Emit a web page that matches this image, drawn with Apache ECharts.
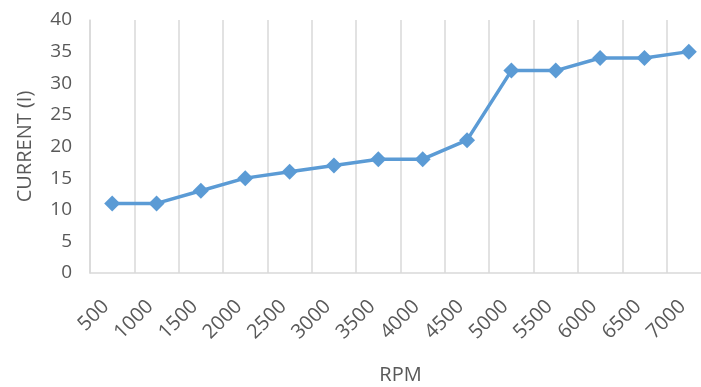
<!DOCTYPE html>
<html>
<head>
<meta charset="utf-8">
<script src="https://cdn.jsdelivr.net/npm/echarts@6/dist/echarts.min.js"></script>
<style>
  html, body { margin: 0; padding: 0; background: #fff; overflow: hidden; }
  #chart { width: 701px; height: 387px; }
</style>
</head>
<body>
<div id="chart"></div>
<script>
// Motor speed (RPM) vs. current draw
const rpmLabels = ['500', '1000', '1500', '2000', '2500', '3000', '3500', '4000', '4500', '5000', '5500', '6000', '6500', '7000'];
const currentValues = [11, 11, 13, 15, 16, 17, 18, 18, 21, 32, 32, 34, 34, 35];
const yTicks = { min: 0, max: 40, interval: 5 };

const textColor = '#595959';
const fontFamily = '"Open Sans", "Noto Sans", sans-serif';

const chart = echarts.init(document.getElementById('chart'));
chart.setOption({
  animation: false,
  // plot area runs slightly past the right edge of the canvas
  grid: { left: 90, width: 621, top: 20, height: 253, containLabel: false, outerBoundsMode: 'none' },
  xAxis: {
    type: 'category',
    data: rpmLabels,
    boundaryGap: true,
    name: 'RPM',
    nameLocation: 'middle',
    nameGap: 92,
    nameTextStyle: { color: textColor, fontSize: 20, fontFamily },
    axisLine: { show: true, lineStyle: { color: '#d9d9d9', width: 1.5 } },
    axisTick: { show: false },
    axisLabel: { rotate: 45, margin: 24, padding: [0, 9, 0, 0], color: textColor, fontSize: 20, fontFamily },
    splitLine: { show: true, lineStyle: { color: '#d9d9d9', width: 1.5 } }
  },
  yAxis: {
    type: 'value',
    min: yTicks.min,
    max: yTicks.max,
    interval: yTicks.interval,
    name: 'CURRENT (I)',
    nameLocation: 'middle',
    nameGap: 55,
    nameTextStyle: { color: textColor, fontSize: 20, fontFamily },
    axisLine: { show: true, lineStyle: { color: '#d9d9d9', width: 1.5 } },
    axisTick: { show: false },
    axisLabel: { margin: 18, color: textColor, fontSize: 19, fontFamily },
    splitLine: { show: false }
  },
  series: [{
    type: 'line',
    data: currentValues,
    symbol: 'diamond',
    symbolSize: 16,
    lineStyle: { color: '#5b9bd5', width: 3.5 },
    itemStyle: { color: '#5b9bd5' }
  }]
});
</script>
</body>
</html>
